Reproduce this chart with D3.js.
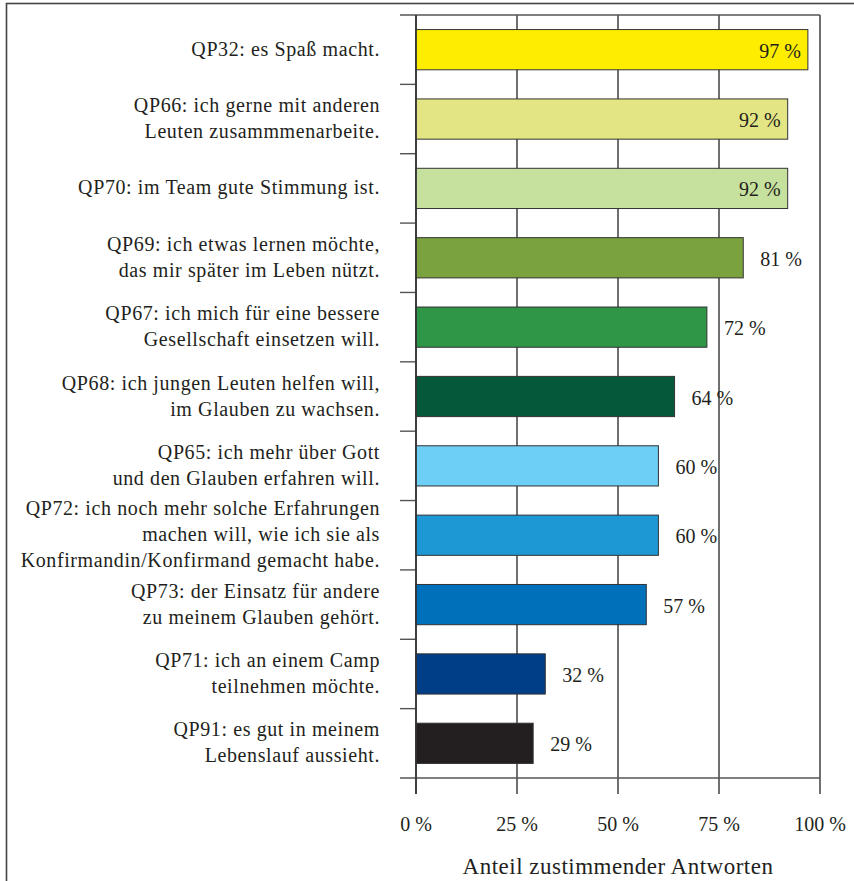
<!DOCTYPE html>
<html>
<head>
<meta charset="utf-8">
<script src="https://cdn.jsdelivr.net/npm/d3@7"></script>
<style>
  body { margin: 0; background: #fff; }
  svg { display: block; font-family: "Liberation Serif", "DejaVu Serif", serif; }
</style>
</head>
<body>
<svg id="chart" width="854" height="881"></svg>
<script>
// data
const labels = [
  ["QP32: es Spaß macht."],
  ["QP66: ich gerne mit anderen", "Leuten zusammmenarbeite."],
  ["QP70: im Team gute Stimmung ist."],
  ["QP69: ich etwas lernen möchte,", "das mir später im Leben nützt."],
  ["QP67: ich mich für eine bessere", "Gesellschaft einsetzen will."],
  ["QP68: ich jungen Leuten helfen will,", "im Glauben zu wachsen."],
  ["QP65: ich mehr über Gott", "und den Glauben erfahren will."],
  ["QP72: ich noch mehr solche Erfahrungen", "machen will, wie ich sie als", "Konfirmandin/Konfirmand gemacht habe."],
  ["QP73: der Einsatz für andere", "zu meinem Glauben gehört."],
  ["QP71: ich an einem Camp", "teilnehmen möchte."],
  ["QP91: es gut in meinem", "Lebenslauf aussieht."]
];
const values = [97, 92, 92, 81, 72, 64, 60, 60, 57, 32, 29];
const barColors = ["#ffed00", "#e3e584", "#c6e09e", "#7aa23f", "#2f9648", "#05583a",
                   "#6dcff6", "#1e98d5", "#0070ba", "#003f87", "#231f20"];
const tickValues = [0, 25, 50, 75, 100];
const axisTitle = "Anteil zustimmender Antworten";

const svg = d3.select("#chart");
const lineCol = "#333";
const txtCol = "#231f20";

// outer frame (runs off right/bottom)
svg.append("rect")
  .attr("x", 6.5).attr("y", 3.5)
  .attr("width", 900).attr("height", 900)
  .attr("fill", "none").attr("stroke", "#444").attr("stroke-width", 1.6);

const x = d3.scaleLinear().domain([0, 100]).range([416, 820]);
const y = d3.scaleBand().domain(d3.range(values.length))
  .range([15, 778]).paddingInner(0.42).paddingOuter(0.21);

const plotTop = 15, plotBottom = 778, tickEnd = 794;

// vertical grid lines
svg.append("g").selectAll("line").data(tickValues).join("line")
  .attr("x1", d => x(d)).attr("x2", d => x(d))
  .attr("y1", plotTop).attr("y2", tickEnd)
  .attr("stroke", lineCol).attr("stroke-width", 1.4);

// top and bottom lines
svg.append("g").selectAll("line").data([plotTop, plotBottom]).join("line")
  .attr("x1", 400).attr("x2", x(100))
  .attr("y1", d => d).attr("y2", d => d)
  .attr("stroke", "#555").attr("stroke-width", 1.4);

// category separators left of axis
const seps = d3.range(1, values.length).map(i => y(i) - y.step() * y.paddingInner() / 2);
svg.append("g").selectAll("line").data(seps).join("line")
  .attr("x1", 400).attr("x2", x(0))
  .attr("y1", d => d).attr("y2", d => d)
  .attr("stroke", "#555").attr("stroke-width", 1.4);

// bars
svg.append("g").selectAll("rect").data(values).join("rect")
  .attr("x", x(0))
  .attr("y", (d, i) => y(i))
  .attr("width", d => x(d) - x(0))
  .attr("height", y.bandwidth())
  .attr("fill", (d, i) => barColors[i])
  .attr("stroke", "#333").attr("stroke-width", 1);

// axis line on top of bars
svg.append("line")
  .attr("x1", x(0)).attr("x2", x(0)).attr("y1", plotTop).attr("y2", tickEnd)
  .attr("stroke", lineCol).attr("stroke-width", 1.6);

// value labels
svg.append("g").selectAll("text").data(values).join("text")
  .attr("x", d => d >= 90 ? x(d) - 7 : x(d) + 17)
  .attr("y", (d, i) => y(i) + y.bandwidth() / 2 + 8)
  .attr("text-anchor", d => d >= 90 ? "end" : "start")
  .attr("font-size", 20)
  .attr("fill", txtCol)
  .text(d => d + " %");

// category labels, centred on the bar
const lh = 26;
const lab = svg.append("g").selectAll("text").data(labels).join("text")
  .attr("text-anchor", "end")
  .attr("font-size", 20)
  .attr("letter-spacing", 0.6)
  .attr("fill", txtCol)
  .attr("y", (d, i) => y(i) + y.bandwidth() / 2 + 6 - (d.length - 1) * lh / 2);
lab.selectAll("tspan").data(d => d.map((t, j) => ({ t, j }))).join("tspan")
  .attr("x", 380)
  .attr("dy", d => d.j === 0 ? 0 : lh)
  .text(d => d.t);

// tick labels
svg.append("g").selectAll("text").data(tickValues).join("text")
  .attr("x", d => x(d)).attr("y", 831)
  .attr("text-anchor", "middle")
  .attr("font-size", 20)
  .attr("fill", txtCol)
  .text(d => d + " %");

// axis title
svg.append("text")
  .attr("x", (x(0) + x(100)) / 2).attr("y", 874)
  .attr("text-anchor", "middle")
  .attr("font-size", 23)
  .attr("letter-spacing", 0.5)
  .attr("fill", txtCol)
  .text(axisTitle);
</script>
</body>
</html>
